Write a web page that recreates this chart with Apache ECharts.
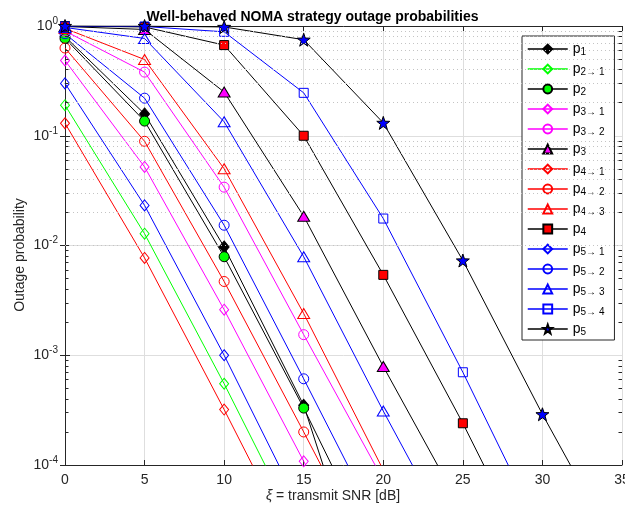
<!DOCTYPE html>
<html>
<head>
<meta charset="utf-8">
<script src="https://cdn.jsdelivr.net/npm/echarts@6/dist/echarts.min.js"></script>
<style>
  html, body { margin: 0; padding: 0; background: #fff; }
  #chart { width: 625px; height: 510px; }
</style>
</head>
<body>
<div id="chart"></div>
<script>
// SNR points [dB]
const snr = [0, 5, 10, 15, 20, 25, 30, 35];

// outage probabilities (last point of each curve lies below the axis)
const p1    = [0.80, 0.158, 0.0097, 3.5e-4, 2e-6];
const p2to1 = [0.19, 0.0128, 5.5e-4, 2.0e-5];
const p2    = [0.77, 0.136, 0.0079, 3.3e-4, 1.1e-5];
const p3to1 = [0.485, 0.052, 0.0026, 1.08e-4, 4.5e-6];
const p3to2 = [0.90, 0.38, 0.034, 1.54e-3, 7.3e-5];
const p3    = [0.99, 0.93, 0.25, 0.0185, 7.9e-4, 3.8e-5];
const p4to1 = [0.13, 0.0077, 3.2e-4, 1.2e-5];
const p4to2 = [0.63, 0.089, 0.0047, 2.0e-4, 8e-6];
const p4to3 = [0.95, 0.495, 0.050, 2.4e-3, 9e-5];
const p4    = [1.0, 0.98, 0.67, 0.10, 0.0054, 2.4e-4, 8.5e-6];
const p5to1 = [0.30, 0.0232, 1.0e-3, 3.5e-5];
const p5to2 = [0.85, 0.22, 0.0153, 6.1e-4, 2.3e-5];
const p5to3 = [0.97, 0.77, 0.134, 0.0079, 3.1e-4, 1.4e-5];
const p5to4 = [0.99, 0.99, 0.885, 0.246, 0.0176, 7.0e-4, 2.3e-5];
const p5    = [1.0, 1.0, 0.98, 0.75, 0.131, 0.0073, 2.9e-4, 1.4e-5];

// log-axis minor grid positions (2..9 x each decade)
const minorTicks = [];
for (let d = -4; d < 0; d++) {
  for (let k = 2; k <= 9; k++) minorTicks.push(+(k * Math.pow(10, d)).toPrecision(3));
}

const FONT = '"Liberation Sans", Arial, Helvetica, "DejaVu Sans", sans-serif';
const AX = '#262626';
const NONE = 'rgba(255,255,255,0)';
const STAR = 'path://M0,-50 L11.8,-16.2 L47.6,-15.5 L19,6.2 L29.4,40.5 L0,20 L-29.4,40.5 L-19,6.2 L-47.6,-15.5 L-11.8,-16.2 Z';

function mk(name, vals, line, symbol, size, fill, border) {
  return {
    name: name,
    type: 'line',
    data: vals.map((v, i) => [snr[i], v]),
    symbol: symbol,
    symbolSize: size,
    clip: true,
    lineStyle: { color: line, width: 1 },
    itemStyle: { color: fill, borderColor: border, borderWidth: 1 },
    emphasis: { disabled: true },
    z: 3
  }
}

const series = [
  mk('p_1',     p1,    '#000', 'diamond',  [10, 12], '#000', '#000'),
  mk('p_2→ 1', p2to1, '#00ff00', 'diamond', [9, 11], NONE, '#00ff00'),
  mk('p_2',     p2,    '#000', 'circle',   10, '#00ff00', '#000'),
  mk('p_3→ 1', p3to1, '#ff00ff', 'diamond', [9, 11], NONE, '#ff00ff'),
  mk('p_3→ 2', p3to2, '#ff00ff', 'circle', 10, NONE, '#ff00ff'),
  mk('p_3',     p3,    '#000', 'triangle', [12, 10], '#ff00ff', '#000'),
  mk('p_4→ 1', p4to1, '#ff0000', 'diamond', [9, 11], NONE, '#ff0000'),
  mk('p_4→ 2', p4to2, '#ff0000', 'circle', 10, NONE, '#ff0000'),
  mk('p_4→ 3', p4to3, '#ff0000', 'triangle', [12, 10], NONE, '#ff0000'),
  mk('p_4',     p4,    '#000', 'rect',     9, '#ff0000', '#000'),
  mk('p_5→ 1', p5to1, '#0000ff', 'diamond', [9, 11], NONE, '#0000ff'),
  mk('p_5→ 2', p5to2, '#0000ff', 'circle', 10, NONE, '#0000ff'),
  mk('p_5→ 3', p5to3, '#0000ff', 'triangle', [12, 10], NONE, '#0000ff'),
  mk('p_5→ 4', p5to4, '#0000ff', 'rect', 9, NONE, '#0000ff'),
  mk('p_5',     p5,    '#000', STAR,       13, '#0000ff', '#000')
];
const names = series.map(s => s.name);

// minor grid + minor ticks on both sides, drawn by helper series
const minorMarks = [];
minorTicks.forEach(v => {
  minorMarks.push([{ coord: [0, v] }, { coord: [0.22, v] }]);
  minorMarks.push([{ coord: [34.78, v] }, { coord: [35, v] }]);
});
series.unshift({
  type: 'line',
  data: [],
  silent: true,
  z: 1,
  markLine: {
    silent: true,
    symbol: 'none',
    animation: false,
    label: { show: false },
    lineStyle: { color: '#c4c4c4', type: [1, 3], width: 1 },
    emphasis: { disabled: true },
    data: minorTicks.map(v => ({ yAxis: v }))
  }
}, {
  type: 'line',
  data: [],
  silent: true,
  z: 4,
  markLine: {
    silent: true,
    symbol: 'none',
    animation: false,
    label: { show: false },
    lineStyle: { color: AX, type: 'solid', width: 1 },
    emphasis: { disabled: true },
    data: minorMarks
  }
});

const myChart = echarts.init(document.getElementById('chart'), null, { renderer: 'canvas' });
myChart.setOption({
  animation: false,
  backgroundColor: '#fff',
  title: {
    text: 'Well-behaved NOMA strategy outage probabilities',
    left: 'center',
    top: 5,
    textStyle: { fontFamily: FONT, fontSize: 14, fontWeight: 'bold', color: '#000' }
  },
  grid: { left: 65, right: 3, top: 26, bottom: 45, containLabel: false, outerBoundsMode: 'none' },
  legend: {
    orient: 'vertical',
    left: 522,
    top: 36,
    itemWidth: 40,
    itemHeight: 11,
    itemGap: 5,
    padding: [6, 10, 3, 5],
    borderColor: AX,
    borderWidth: 1,
    backgroundColor: '#fff',
    lineStyle: { width: 1.5 },
    data: names,
    formatter: n => {
      const parts = n.split('_');
      return '{m|' + parts[0] + '}{s|' + parts[1] + '}';
    },
    textStyle: {
      color: '#000',
      fontFamily: FONT,
      rich: {
        m: { fontSize: 14, lineHeight: 16, fontFamily: FONT, color: '#000' },
        s: { fontSize: 10, verticalAlign: 'bottom', fontFamily: FONT, color: '#000' }
      }
    }
  },
  xAxis: [{
    type: 'value',
    min: 0,
    max: 35,
    interval: 5,
    axisLine: { lineStyle: { color: AX, width: 1 } },
    axisTick: { inside: true, length: 5, lineStyle: { color: AX } },
    axisLabel: { margin: 8, fontSize: 14, color: AX, fontFamily: FONT },
    splitLine: { show: true, lineStyle: { color: '#dedede', width: 1 } }
  }, {
    type: 'value',
    position: 'top',
    min: 0,
    max: 35,
    interval: 5,
    axisLine: { lineStyle: { color: AX, width: 1 } },
    axisTick: { inside: true, length: 5, lineStyle: { color: AX } },
    axisLabel: { show: false },
    splitLine: { show: false }
  }],
  yAxis: [{
    type: 'log',
    logBase: 10,
    min: 1e-4,
    max: 1,
    axisLine: { show: true, lineStyle: { color: AX, width: 1 } },
    axisTick: { show: true, inside: true, length: 5, lineStyle: { color: AX } },
    axisLabel: {
      margin: 7,
      color: AX,
      formatter: v => '{b|10}{e|' + Math.round(Math.log10(v)) + '}',
      rich: {
        b: { fontSize: 14, lineHeight: 20, fontFamily: FONT, color: AX },
        e: { fontSize: 10, verticalAlign: 'top', fontFamily: FONT, color: AX }
      }
    },
    splitLine: { show: true, lineStyle: { color: '#dedede', width: 1 } }
  }, {
    type: 'log',
    logBase: 10,
    position: 'right',
    min: 1e-4,
    max: 1,
    axisLine: { show: true, lineStyle: { color: AX, width: 1 } },
    axisTick: { show: true, inside: true, length: 5, lineStyle: { color: AX } },
    axisLabel: { show: false },
    splitLine: { show: false }
  }],
  graphic: [{
    type: 'text',
    x: 20,
    y: 255,
    rotation: Math.PI / 2,
    style: {
      text: 'Outage probability',
      font: '14px ' + FONT,
      fill: AX,
      align: 'center',
      verticalAlign: 'middle'
    }
  }, {
    type: 'text',
    x: 333,
    y: 496,
    style: {
      text: '{i|ξ} = transmit SNR [dB]',
      font: '14px ' + FONT,
      fill: AX,
      align: 'center',
      verticalAlign: 'middle',
      rich: { i: { fontStyle: 'italic', fontSize: 14, fontFamily: FONT, fill: AX } }
    }
  }],
  series: series
});
</script>
</body>
</html>
